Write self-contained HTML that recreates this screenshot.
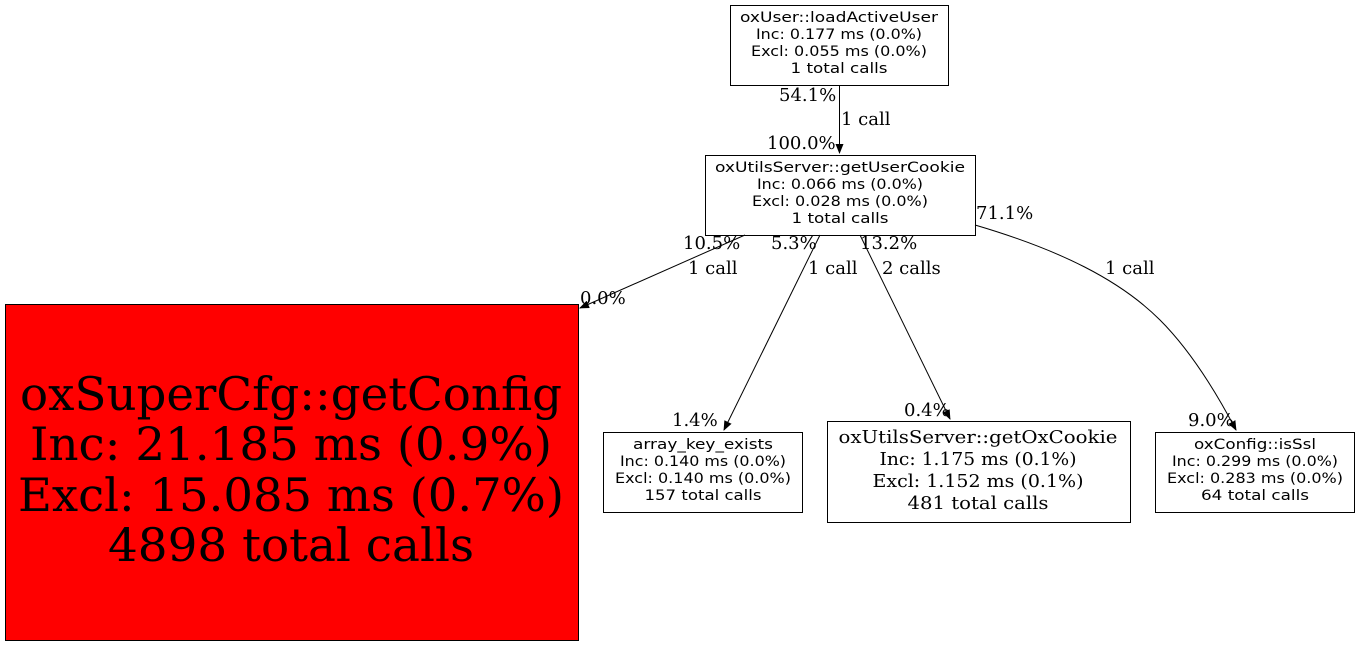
<!DOCTYPE html>
<html><head><meta charset="utf-8"><style>body{margin:0;background:#fff}svg{display:block}</style></head>
<body>
<svg width="1360" height="645" viewBox="0 0 1360 645" xmlns="http://www.w3.org/2000/svg">
<defs><marker id="a" markerWidth="10" markerHeight="10" refX="9" refY="5" orient="auto" markerUnits="userSpaceOnUse"><path d="M0,1 L10,5 L0,9 Z" fill="#000"/></marker></defs>
<g fill="none" stroke="#000" stroke-width="1">
<rect x="730.5" y="5.5" width="218" height="80" fill="#fff"/>
<rect x="705.5" y="155.5" width="270" height="80" fill="#fff"/>
<rect x="5.5" y="304.5" width="573" height="336" fill="#ff0000"/>
<rect x="603.5" y="432.5" width="199" height="80" fill="#fff"/>
<rect x="827.5" y="421.5" width="303" height="101" fill="#fff"/>
<rect x="1155.5" y="432.5" width="199" height="80" fill="#fff"/>
<path d="M839.5,85 L839.5,153" marker-end="url(#a)"/>
<path d="M745,235 L580,308" marker-end="url(#a)"/>
<path d="M820,235 L724,430" marker-end="url(#a)"/>
<path d="M860,235 L950,419" marker-end="url(#a)"/>
<path d="M975,225 C1060,250 1120,280 1160,320 C1190,350 1215,390 1236,430" marker-end="url(#a)"/>
</g>
<g font-family="DejaVu Sans, sans-serif" font-size="14" text-anchor="middle" fill="#000">
<text x="839" y="22" textLength="198" lengthAdjust="spacingAndGlyphs">oxUser::loadActiveUser</text>
<text x="839" y="39" textLength="166" lengthAdjust="spacingAndGlyphs">Inc: 0.177 ms (0.0%)</text>
<text x="839" y="56" textLength="176" lengthAdjust="spacingAndGlyphs">Excl: 0.055 ms (0.0%)</text>
<text x="839" y="73" textLength="97" lengthAdjust="spacingAndGlyphs">1 total calls</text>
<text x="840" y="172" textLength="250" lengthAdjust="spacingAndGlyphs">oxUtilsServer::getUserCookie</text>
<text x="840" y="189" textLength="166" lengthAdjust="spacingAndGlyphs">Inc: 0.066 ms (0.0%)</text>
<text x="840" y="206" textLength="176" lengthAdjust="spacingAndGlyphs">Excl: 0.028 ms (0.0%)</text>
<text x="840" y="223" textLength="97" lengthAdjust="spacingAndGlyphs">1 total calls</text>
<text x="703" y="449" textLength="140" lengthAdjust="spacingAndGlyphs">array_key_exists</text>
<text x="703" y="466" textLength="166" lengthAdjust="spacingAndGlyphs">Inc: 0.140 ms (0.0%)</text>
<text x="703" y="483" textLength="176" lengthAdjust="spacingAndGlyphs">Excl: 0.140 ms (0.0%)</text>
<text x="703" y="500" textLength="117" lengthAdjust="spacingAndGlyphs">157 total calls</text>
<text x="1255" y="449" textLength="122" lengthAdjust="spacingAndGlyphs">oxConfig::isSsl</text>
<text x="1255" y="466" textLength="166" lengthAdjust="spacingAndGlyphs">Inc: 0.299 ms (0.0%)</text>
<text x="1255" y="483" textLength="176" lengthAdjust="spacingAndGlyphs">Excl: 0.283 ms (0.0%)</text>
<text x="1255" y="500" textLength="108" lengthAdjust="spacingAndGlyphs">64 total calls</text>
</g>
<g font-family="DejaVu Serif, serif" text-anchor="middle" fill="#000">
<g font-size="18">
<text x="978" y="443" textLength="279" lengthAdjust="spacingAndGlyphs">oxUtilsServer::getOxCookie</text>
<text x="978" y="465" textLength="197" lengthAdjust="spacingAndGlyphs">Inc: 1.175 ms (0.1%)</text>
<text x="978" y="487" textLength="211" lengthAdjust="spacingAndGlyphs">Excl: 1.152 ms (0.1%)</text>
<text x="978" y="509" textLength="141" lengthAdjust="spacingAndGlyphs">481 total calls</text>
</g>
<g font-size="46">
<text x="291" y="410" textLength="542" lengthAdjust="spacingAndGlyphs">oxSuperCfg::getConfig</text>
<text x="291" y="460" textLength="522" lengthAdjust="spacingAndGlyphs">Inc: 21.185 ms (0.9%)</text>
<text x="291" y="511" textLength="546" lengthAdjust="spacingAndGlyphs">Excl: 15.085 ms (0.7%)</text>
<text x="291" y="561" textLength="366" lengthAdjust="spacingAndGlyphs">4898 total calls</text>
</g>
</g>
<g font-family="DejaVu Serif, serif" font-size="18" fill="#000">
<text x="779" y="101">54.1%</text>
<text x="841" y="125">1 call</text>
<text x="767" y="149">100.0%</text>
<text x="683" y="249">10.5%</text>
<text x="688" y="274">1 call</text>
<text x="580" y="304">0.0%</text>
<text x="771" y="249">5.3%</text>
<text x="808" y="274">1 call</text>
<text x="672" y="426">1.4%</text>
<text x="860" y="249">13.2%</text>
<text x="882" y="274">2 calls</text>
<text x="904" y="416">0.4%</text>
<text x="976" y="219">71.1%</text>
<text x="1105" y="274">1 call</text>
<text x="1188" y="426">9.0%</text>
</g>
</svg>
</body></html>
